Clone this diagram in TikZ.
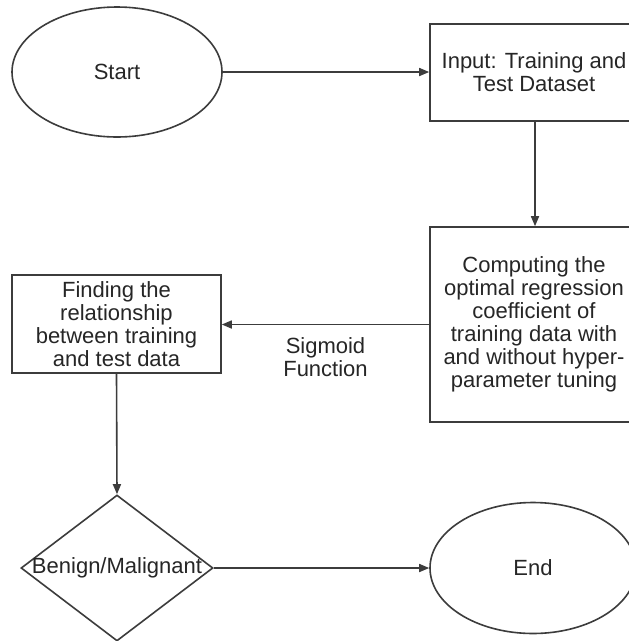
\documentclass[tikz,border=0pt]{standalone}
\usepackage{fontspec}
\setmainfont{Liberation Sans}
\usetikzlibrary{shapes.geometric,arrows.meta}
\definecolor{linec}{HTML}{3C3C3C}
\definecolor{textc}{HTML}{262626}
\begin{document}
\begin{tikzpicture}[x=1pt,y=-1pt,
  base/.style={draw=linec, line width=1.6pt, fill=white, text=textc, inner sep=0pt,
    font=\fontsize{22}{23}\selectfont, align=center},
  oval/.style={base, ellipse},
  boxnode/.style={base, rectangle},
  decision/.style={base, diamond},
  arr/.style={draw=linec, line width=1.6pt, -{Triangle[length=10pt,width=8pt]}},
  lbl/.style={text=textc, font=\fontsize{22}{23}\selectfont, align=center, inner sep=0pt}]
\useasboundingbox (0,0) rectangle (629,641);
\fill[white] (0,0) rectangle (629,641);
\node[oval, minimum width=210pt, minimum height=130pt] (start) at (117,72) {Start};
\node[boxnode, minimum width=208pt, minimum height=97pt] (input) at (534,72.5) {Input: Training and\\Test Dataset};
\node[boxnode, minimum width=208pt, minimum height=195pt] (comp) at (534,324.5)
  {Computing the\\optimal regression\\coefficient of\\training data with\\and without hyper-\\parameter tuning};
\node[boxnode, minimum width=209pt, minimum height=98pt] (find) at (116.5,324)
  {Finding the\\relationship\\between training\\and test data};
\node[decision, minimum width=192pt, minimum height=146pt] (dec) at (117,568) {\makebox[0pt]{Benign/Malignant}};
\node[oval, minimum width=206pt, minimum height=131pt] (end) at (533,568) {End};
\draw[arr] (start.east) -- (input.west |- start.east);
\draw[arr] ([xshift=1pt]input.south) -- ([xshift=1pt]comp.north);
\draw[arr] (comp.west) -- (find.east |- comp.west)
  node[lbl, midway, yshift=-33pt] (sig) {Sigmoid\\Function};
\draw[arr] (find.south) -- (dec.north);
\draw[arr] (dec.east) -- (end.west);
\end{tikzpicture}
\end{document}
